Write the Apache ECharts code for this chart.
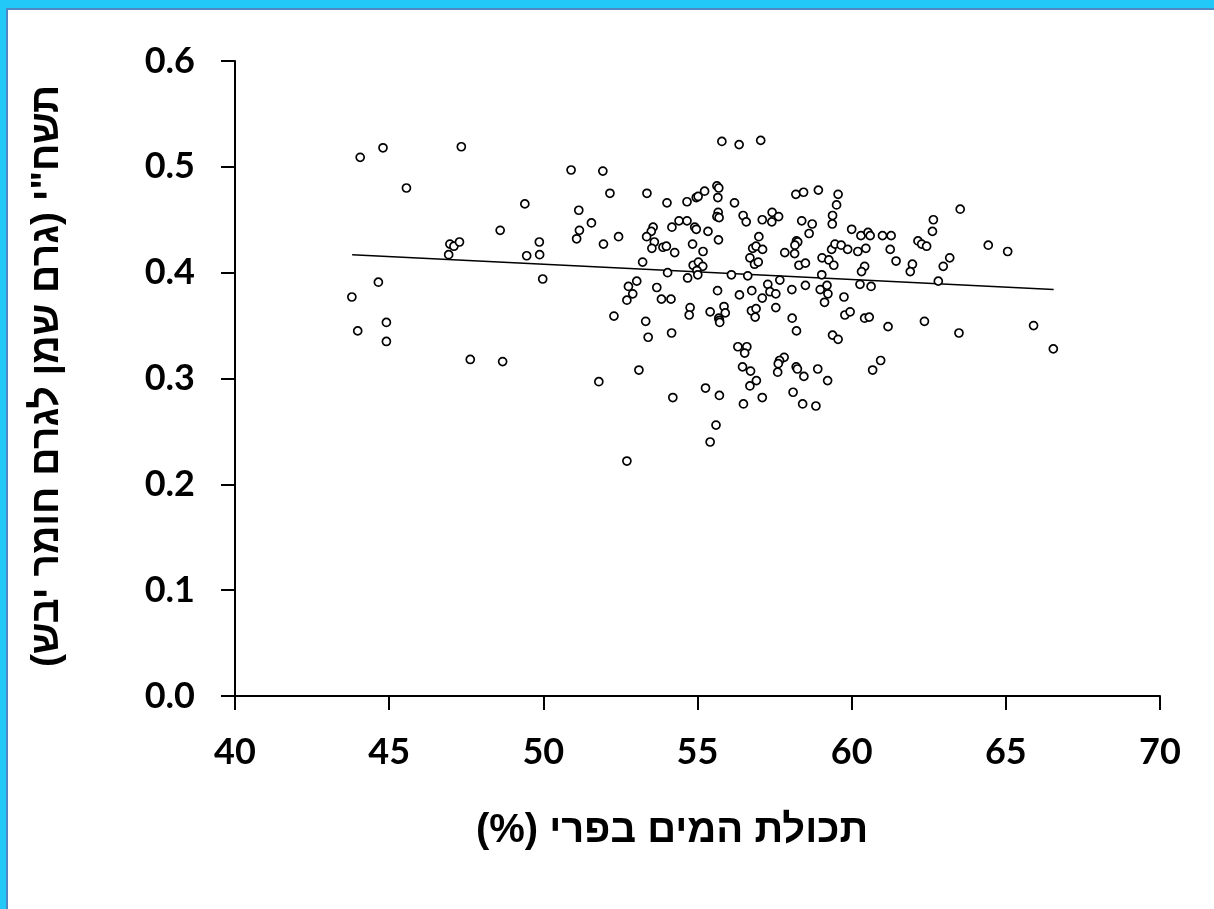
<!DOCTYPE html>
<html lang="he">
<head>
<meta charset="utf-8">
<title>תשח"י מול תכולת המים בפרי</title>
<script src="https://cdn.jsdelivr.net/npm/echarts@6/dist/echarts.min.js"></script>
<style>
  html, body { margin: 0; padding: 0; }
  #frame { position: absolute; left: 0; top: 0; width: 1214px; height: 909px; background: #22c8f8; overflow: hidden; }
  #paper { position: absolute; left: 6px; top: 8px; width: 1214px; height: 909px; background: #fff;
           border-top: 2px solid #4f86c4; border-left: 2px solid #4f86c4; }
  #chart { position: absolute; left: 0; top: 0; width: 1214px; height: 909px; }
</style>
</head>
<body>
<div id="frame"><div id="paper"></div></div>
<div id="chart" dir="rtl"></div>
<script>
// Water content of the fruit (%) for each sample
const waterContent = [
  44.06, 44.80, 47.34, 45.56, 49.40, 48.60, 46.97, 47.10, 47.28, 46.93,
  49.87, 49.46, 49.88, 49.98, 44.65, 43.79, 44.91, 43.98, 44.91, 47.63,
  48.68, 50.90, 51.93, 52.16, 51.15, 51.56, 51.17, 51.08, 51.95, 52.44,
  52.76, 52.71, 52.29, 51.80, 52.71,
  53.36, 54.01, 54.66, 54.96, 55.02, 55.23, 55.63, 55.69, 55.66, 55.79,
  56.35, 57.05, 56.20, 55.67, 55.63, 55.70, 56.48, 56.58, 57.10, 57.42,
  57.41, 57.63, 54.40, 54.66, 54.17, 54.91, 54.96, 55.34, 53.56, 53.50,
  53.35, 53.60, 53.52, 53.88, 53.99, 54.26, 54.84, 55.18, 55.68, 53.22,
  54.03, 54.68, 54.86, 55.03, 55.17, 54.98, 55.01, 56.10, 56.63, 56.99,
  56.79, 56.90, 57.11, 56.70, 56.85, 56.97, 57.83, 58.15, 58.19, 58.44,
  58.92, 59.56, 59.51, 59.38, 59.37, 58.38, 58.72, 58.62, 58.21, 58.25,
  58.16, 58.29, 58.50, 59.04, 59.26, 59.42, 59.35, 59.46, 59.66, 59.87,
  60.20, 60.46, 60.00, 60.30, 60.53, 60.60, 59.03, 60.42, 60.32, 60.27,
  60.63, 53.68, 53.03, 52.90, 53.83, 54.14, 53.32, 53.40, 54.16, 55.65,
  56.36, 56.76, 57.10, 57.28, 57.35, 57.54, 57.67, 58.06, 58.50, 58.98,
  59.20, 59.23, 59.12, 59.75, 54.76, 54.73, 55.41, 55.86, 55.90, 55.69,
  55.71, 55.72, 56.75, 56.90, 56.87, 57.54, 58.07, 58.21, 59.38, 59.56,
  59.78, 59.95, 60.42, 60.57, 56.31, 56.60, 56.53,
  60.94, 60.68, 53.10, 54.20, 55.26, 55.71, 55.60, 55.41, 56.46, 56.72,
  56.91, 56.70, 57.10, 56.49, 57.81, 57.66, 57.62, 57.60, 58.10, 58.20,
  58.24, 58.45, 58.90, 59.22, 58.41, 58.84,
  61.00, 61.28, 61.25, 61.44, 61.18, 62.15, 62.27, 62.43, 62.65, 62.62,
  61.97, 61.90, 63.18, 62.97, 62.81, 63.52, 64.43, 65.06, 62.36, 63.48,
  65.90, 66.54
];

// Oil-to-dry-matter ratio (g oil per g dry matter), same order as above
const oilRatio = [
  0.509, 0.518, 0.519, 0.480, 0.465, 0.440, 0.427, 0.425, 0.429, 0.417,
  0.429, 0.416, 0.417, 0.394, 0.391, 0.377, 0.353, 0.345, 0.335, 0.318,
  0.316, 0.497, 0.496, 0.475, 0.459, 0.447, 0.440, 0.432, 0.427, 0.434,
  0.387, 0.374, 0.359, 0.297, 0.222,
  0.475, 0.466, 0.467, 0.471, 0.472, 0.477, 0.482, 0.480, 0.471, 0.524,
  0.521, 0.525, 0.466, 0.457, 0.453, 0.452, 0.454, 0.448, 0.450, 0.457,
  0.448, 0.453, 0.449, 0.449, 0.443, 0.443, 0.441, 0.439, 0.443, 0.439,
  0.434, 0.429, 0.423, 0.424, 0.425, 0.419, 0.427, 0.420, 0.431, 0.410,
  0.400, 0.395, 0.407, 0.410, 0.406, 0.402, 0.398, 0.398, 0.397, 0.434,
  0.423, 0.425, 0.422, 0.414, 0.408, 0.410, 0.419, 0.418, 0.474, 0.476,
  0.478, 0.474, 0.464, 0.454, 0.446, 0.449, 0.446, 0.437, 0.430, 0.429,
  0.426, 0.407, 0.409, 0.414, 0.412, 0.407, 0.422, 0.427, 0.426, 0.422,
  0.420, 0.423, 0.441, 0.435, 0.438, 0.435, 0.398, 0.406, 0.401, 0.389,
  0.387, 0.386, 0.392, 0.380, 0.375, 0.375, 0.354, 0.339, 0.343, 0.383,
  0.379, 0.383, 0.376, 0.389, 0.382, 0.380, 0.393, 0.384, 0.388, 0.384,
  0.388, 0.380, 0.372, 0.377, 0.367, 0.360, 0.363, 0.368, 0.362, 0.357,
  0.355, 0.353, 0.364, 0.366, 0.358, 0.367, 0.357, 0.345, 0.341, 0.337,
  0.360, 0.363, 0.357, 0.358, 0.330, 0.330, 0.324,
  0.317, 0.308, 0.308, 0.282, 0.291, 0.284, 0.256, 0.240, 0.311, 0.307,
  0.298, 0.293, 0.282, 0.276, 0.320, 0.317, 0.314, 0.306, 0.287, 0.311,
  0.309, 0.302, 0.309, 0.298, 0.276, 0.274,
  0.435, 0.435, 0.422, 0.411, 0.349, 0.430, 0.427, 0.425, 0.450, 0.439,
  0.408, 0.401, 0.414, 0.406, 0.392, 0.460, 0.426, 0.420, 0.354, 0.343,
  0.350, 0.328
];

// Linear trend line end points
const trendX = [43.8, 66.55];
const trendY = [0.417, 0.384];

// Axis tick values
const xTicks = [40, 45, 50, 55, 60, 65, 70];
const yTicks = [0.0, 0.1, 0.2, 0.3, 0.4, 0.5, 0.6];

const xTitle = 'תכולת המים בפרי (%)';
const yTitle = 'תשח"י (גרם שמן לגרם חומר יבש)';

const points = waterContent.map((x, i) => [x, oilRatio[i]]);
const trend = trendX.map((x, i) => [x, trendY[i]]);

const labelFont = { color: '#000', fontFamily: 'Lato, "Open Sans", "Liberation Sans", sans-serif', fontWeight: 'bold', fontSize: 36 };
const titleFamily = '"Liberation Sans", "DejaVu Sans", sans-serif';

const chart = echarts.init(document.getElementById('chart'), null, { renderer: 'canvas' });

const axisCommon = {
  axisLine: { show: true, lineStyle: { color: '#000', width: 2 } },
  axisTick: { show: true, inside: false, length: 14, lineStyle: { color: '#000', width: 2 } },
  splitLine: { show: false },
  axisLabel: Object.assign({ margin: 36 }, labelFont)
};

chart.setOption({
  backgroundColor: 'transparent',
  animation: false,
  grid: { left: 235, right: 54, top: 61, bottom: 213, containLabel: false },
  xAxis: Object.assign({}, axisCommon, {
    type: 'value',
    min: xTicks[0], max: xTicks[xTicks.length - 1], interval: xTicks[1] - xTicks[0],
    axisLabel: Object.assign({}, axisCommon.axisLabel, { margin: 38 })
  }),
  yAxis: Object.assign({}, axisCommon, {
    type: 'value',
    min: yTicks[0], max: yTicks[yTicks.length - 1], interval: 0.1,
    axisLabel: Object.assign({}, axisCommon.axisLabel, {
      margin: 40,
      formatter: v => v.toFixed(1)
    })
  }),
  graphic: [
    {
      type: 'text',
      x: 672, y: 831,
      style: { text: xTitle, font: 'bold 40px ' + titleFamily, fill: '#000', textAlign: 'center', textVerticalAlign: 'middle' }
    },
    {
      type: 'text',
      x: 47, y: 376, rotation: Math.PI / 2,
      style: { text: yTitle, font: 'bold 39px ' + titleFamily, fill: '#000', textAlign: 'center', textVerticalAlign: 'middle' }
    }
  ],
  series: [
    {
      type: 'line',
      data: trend,
      showSymbol: false,
      silent: true,
      lineStyle: { color: '#000', width: 1.5 },
      z: 1
    },
    {
      type: 'scatter',
      data: points,
      symbol: 'circle',
      symbolSize: 8,
      itemStyle: { color: '#fff', borderColor: '#000', borderWidth: 1.7, opacity: 1 },
      z: 2
    }
  ]
});
</script>
</body>
</html>
